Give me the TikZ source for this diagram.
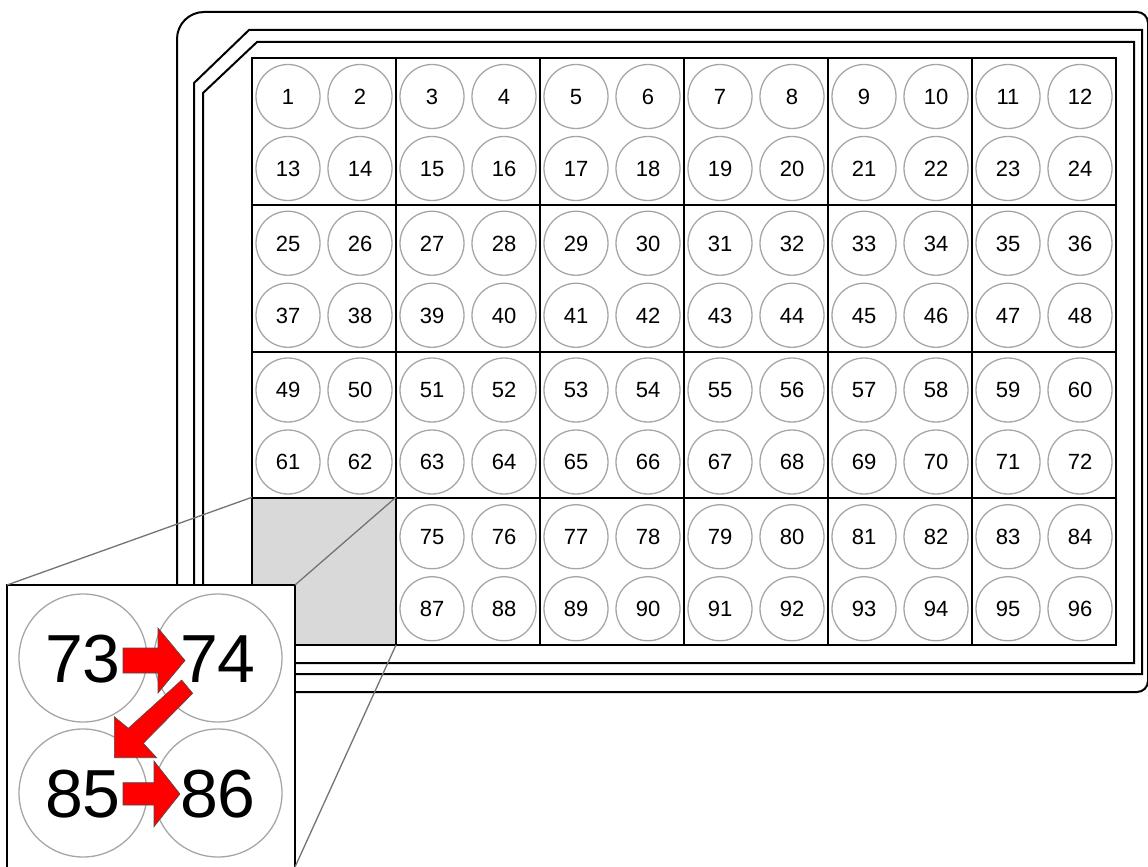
\documentclass[tikz,border=0pt]{standalone}
\usepackage{fontspec}
\setmainfont{Liberation Sans}
\begin{document}
\begin{tikzpicture}[x=1pt,y=-1pt,
  plate/.style={line width=2pt,black},
  gridline/.style={line width=2pt,black},
  well/.style={circle,draw=black!35,line width=1.3pt,minimum size=64pt,inner sep=0pt,text height=15.8pt,text depth=0pt,font=\fontsize{22}{22}\selectfont},
  bigwell/.style={circle,draw=black!35,line width=1.3pt,minimum size=128pt,inner sep=0pt,text height=49pt,text depth=0pt,font=\fontsize{68}{68}\selectfont},
  zoomline/.style={line width=1.3pt,black!55},
  blockarrow/.style={fill=red,draw=black!70,line width=0.6pt}]
\useasboundingbox (0,0) rectangle (1148,867);
% plate outline
\draw[plate] (177,680) -- (177,39) arc[start angle=180,end angle=270,radius=27] -- (1137,12)
  arc[start angle=270,end angle=360,radius=11] -- (1148,681) arc[start angle=0,end angle=90,radius=11]
  -- (189,692) arc[start angle=90,end angle=180,radius=12] -- cycle;
\draw[plate] (249,30) -- (1142,30) -- (1142,674) -- (194,674) -- (194,83) -- cycle;
\draw[plate] (257,42) -- (1134,42) -- (1134,663) -- (203,663) -- (203,93) -- cycle;
% grey block
\fill[black!15] (252,497.25) rectangle (396,645);
\coordinate (gTL) at (252,497.25);
\coordinate (gTR) at (396,497.25);
\coordinate (gBR) at (396,645);
% grid
\draw[gridline] (252,58) rectangle (1116,645);
\foreach \k in {1,...,5} \draw[gridline] ({252+144*\k},58) -- ({252+144*\k},645);
\foreach \k in {1,2,3} \draw[gridline] (252,{58+146.75*\k}) -- (1116,{58+146.75*\k});
% wells
\foreach \r in {0,...,7} {
  \foreach \c in {0,...,11} {
    \pgfmathtruncatemacro\n{\r*12+\c+1}
    \pgfmathsetmacro\wy{58+146.75*int(\r/2)+38.5+72*mod(\r,2)}
    \pgfmathtruncatemacro\skip{(\r>5)&&(\c<2)}
    \ifnum\skip=0
      \node[well] (w\n) at ({288+72*\c},\wy) {\n};
    \fi
  }
}
% inset
\coordinate (iTL) at (7,585);
\coordinate (iTR) at (295,585);
\coordinate (iBR) at (295,867);
\draw[line width=1.5pt,fill=white] (7,585) rectangle (295,880);
\draw[zoomline] (iTL) -- (gTL);
\draw[zoomline] (iTR) -- (gTR);
\draw[zoomline] (gBR) -- (iBR);
\node[bigwell] (b73) at (83,658) {73};
\node[bigwell] (b74) at (218,658) {74};
\node[bigwell] (b85) at (83,793) {85};
\node[bigwell] (b86) at (218,793) {86};
% arrows
\draw[blockarrow] (123,648) -- (158,648) -- (158,628) -- (185,660.5) -- (158,693) -- (158,673) -- (123,673) -- cycle;
\draw[blockarrow] (181.7,680) -- (128.3,728.3) -- (114.3,716.7) -- (114.3,757.7) -- (156.7,757.7) -- (143.3,743.3) -- (192.7,693.3) -- cycle;
\draw[blockarrow] (123,782.7) -- (154,782.7) -- (154,761) -- (180,794) -- (154,826.7) -- (154,805) -- (123,805) -- cycle;
\end{tikzpicture}
\end{document}
